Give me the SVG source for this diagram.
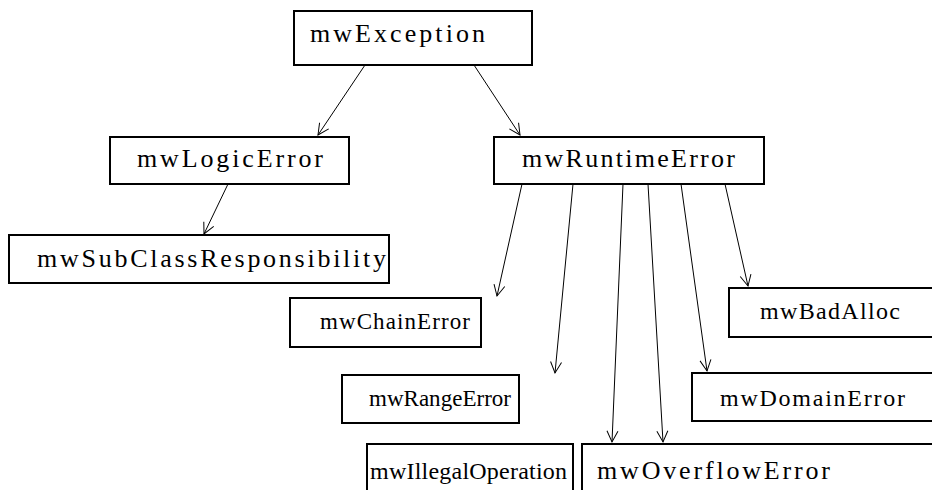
<svg xmlns="http://www.w3.org/2000/svg" width="932" height="490" viewBox="0 0 932 490">
  <style>
    .box { fill: #fff; stroke: #000; stroke-width: 2; }
    .lbl { font-family: "Liberation Serif", "DejaVu Serif", serif; font-size: 26px; fill: #000; }
    .sm { font-size: 24px; }
    .xs { font-size: 23px; }
    .edge { stroke: #000; stroke-width: 1; fill: none; marker-end: url(#vhead); }
  </style>
  <defs>
    <!-- open V arrowhead -->
    <marker id="vhead" viewBox="-12 -7 14 14" refX="0" refY="0" markerWidth="14" markerHeight="14" markerUnits="userSpaceOnUse" orient="auto">
      <path d="M-11,-5.5 L0,0 L-11,5.5" fill="none" stroke="#000" stroke-width="1"/>
    </marker>
  </defs>
  <rect width="932" height="490" fill="#fff"/>

  <g id="connectors">
    <line class="edge" x1="365" y1="65" x2="318" y2="135"/>
    <line class="edge" x1="474" y1="65" x2="520" y2="135"/>
    <line class="edge" x1="228" y1="184" x2="204" y2="234"/>
    <line class="edge" x1="522" y1="184" x2="497" y2="296"/>
    <line class="edge" x1="573" y1="184" x2="555" y2="373"/>
    <line class="edge" x1="623" y1="184" x2="612" y2="442"/>
    <line class="edge" x1="648" y1="184" x2="663" y2="442"/>
    <line class="edge" x1="681" y1="184" x2="707" y2="371"/>
    <line class="edge" x1="725" y1="184" x2="748" y2="286"/>
  </g>

  <g id="mwException">
    <rect class="box" x="294" y="11" width="238" height="54"/>
    <text class="lbl" x="310" y="42" textLength="175" lengthAdjust="spacing">mwException</text>
  </g>
  <g id="mwLogicError">
    <rect class="box" x="110" y="137" width="239" height="47"/>
    <text class="lbl" x="137" y="167" textLength="186" lengthAdjust="spacing">mwLogicError</text>
  </g>
  <g id="mwRuntimeError">
    <rect class="box" x="494" y="137" width="270" height="47"/>
    <text class="lbl" x="522" y="167" textLength="213" lengthAdjust="spacing">mwRuntimeError</text>
  </g>
  <g id="mwSubClassResponsibility">
    <rect class="box" x="9" y="235" width="380" height="48"/>
    <text class="lbl" x="37" y="267" textLength="349" lengthAdjust="spacing">mwSubClassResponsibility</text>
  </g>
  <g id="mwChainError">
    <rect class="box" x="290" y="298" width="191" height="49"/>
    <text class="lbl xs" x="320" y="329" textLength="150" lengthAdjust="spacing">mwChainError</text>
  </g>
  <g id="mwBadAlloc">
    <rect class="box" x="729" y="288" width="210" height="49"/>
    <text class="lbl sm" x="760" y="319" textLength="140" lengthAdjust="spacing">mwBadAlloc</text>
  </g>
  <g id="mwRangeError">
    <rect class="box" x="342" y="375" width="177" height="48"/>
    <text class="lbl xs" x="369" y="406" textLength="142" lengthAdjust="spacing">mwRangeError</text>
  </g>
  <g id="mwDomainError">
    <rect class="box" x="692" y="373" width="247" height="48"/>
    <text class="lbl sm" x="720" y="406" textLength="185" lengthAdjust="spacing">mwDomainError</text>
  </g>
  <g id="mwIllegalOperation">
    <rect class="box" x="367" y="444" width="206" height="52"/>
    <text class="lbl sm" x="370" y="479" textLength="197" lengthAdjust="spacing">mwIllegalOperation</text>
  </g>
  <g id="mwOverflowError">
    <rect class="box" x="582" y="444" width="357" height="52"/>
    <text class="lbl" x="597" y="479" textLength="233" lengthAdjust="spacing">mwOverflowError</text>
  </g>
</svg>
